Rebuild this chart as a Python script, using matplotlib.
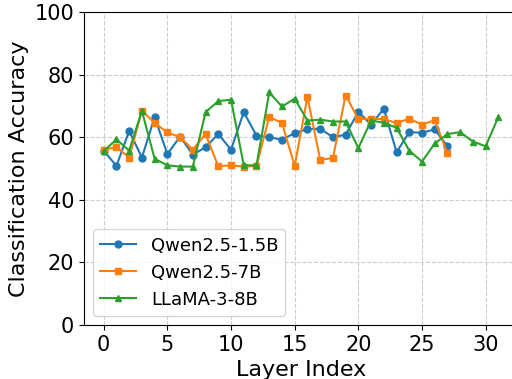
import matplotlib
matplotlib.use("Agg")
import matplotlib.pyplot as plt

qwen15 = [55.7, 50.8, 62.0, 53.5, 66.4, 54.6, 60.2, 54.4, 56.8, 61.0,
          56.0, 68.0, 60.5, 60.0, 59.2, 61.3, 62.6, 62.7, 60.0, 60.8,
          68.1, 64.0, 69.1, 55.2, 61.6, 61.4, 62.5, 57.1]
qwen7 = [56.0, 56.8, 53.5, 68.5, 64.5, 61.5, 60.0, 56.0, 61.0, 50.7,
         51.0, 50.6, 50.8, 66.5, 64.5, 50.8, 72.9, 52.8, 53.3, 73.3,
         65.8, 65.8, 65.8, 64.5, 65.9, 64.0, 65.4, 54.8]
llama8 = [55.5, 59.3, 55.7, 68.4, 53.1, 51.0, 50.6, 50.6, 68.0, 71.5,
          72.0, 51.0, 51.0, 74.3, 69.8, 72.3, 65.3, 65.6, 65.0, 65.0,
          56.5, 65.3, 64.6, 63.0, 55.7, 52.2, 58.0, 61.0, 61.6, 58.6,
          57.1, 66.5]
xticks = [0, 5, 10, 15, 20, 25, 30]

fig = plt.figure(figsize=(5.12, 3.79), dpi=100)
# axes run slightly past the right edge, as in the original crop
ax = fig.add_axes([0.164, 0.1425, 0.848, 0.826])
ax.plot(range(len(qwen15)), qwen15, marker="o", markersize=5, label="Qwen2.5-1.5B", color="#1f77b4")
ax.plot(range(len(qwen7)), qwen7, marker="s", markersize=5, label="Qwen2.5-7B", color="#ff7f0e")
ax.plot(range(len(llama8)), llama8, marker="^", markersize=5, label="LLaMA-3-8B", color="#2ca02c")

ax.set_ylim(0, 100)
ax.set_xticks(xticks)
ax.set_xlabel("Layer Index", fontsize=16)
ax.set_ylabel("Classification Accuracy", fontsize=16)
ax.tick_params(labelsize=15)
ax.grid(True, linestyle="--", color="#cccccc", linewidth=0.8)
ax.legend(loc="lower left", fontsize=13)
fig.savefig("out.png")
